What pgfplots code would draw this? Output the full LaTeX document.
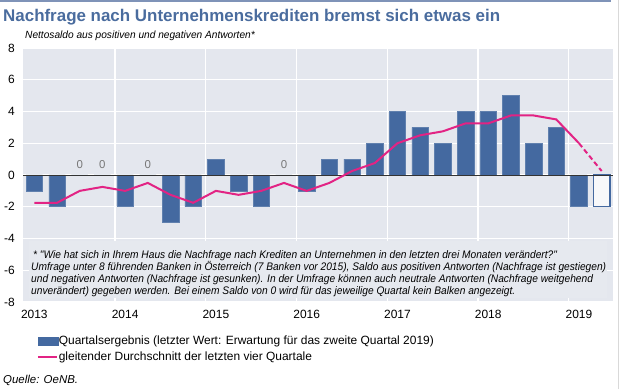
\documentclass[border=0pt]{standalone}
\usepackage{pgfplots}
\pgfplotsset{compat=1.18}
\usepackage{fontspec}
\setmainfont{Liberation Sans}
\newfontfamily\condit{Liberation Sans}[FakeStretch=0.93]
\newfontfamily\subit{Liberation Sans}[FakeStretch=0.97]
\definecolor{barcol}{RGB}{68,105,160}
\definecolor{bgcol}{RGB}{228,231,238}
\definecolor{macol}{RGB}{226,35,132}
\definecolor{titlecol}{RGB}{74,108,158}
\definecolor{zerolab}{RGB}{120,120,120}
\definecolor{topline}{RGB}{127,147,184}

\pgfplotstableread{
x y
0 -1
1 -2
2 0
3 0
4 -2
5 0
6 -3
7 -2
8 1
9 -1
10 -2
11 0
12 -1
13 1
14 1
15 2
16 4
17 3
18 2
19 4
20 4
21 5
22 2
23 3
24 -2
}\bars
\pgfplotstableread{
x y
25 -2
}\expbar
\pgfplotstableread{
x y
0 -1.75
1 -1.75
2 -1
3 -0.75
4 -1
5 -0.5
6 -1.25
7 -1.75
8 -1
9 -1.25
10 -1
11 -0.5
12 -1
13 -0.5
14 0.25
15 0.75
16 2
17 2.5
18 2.75
19 3.25
20 3.25
21 3.75
22 3.75
23 3.5
24 2
}\ma
\pgfplotstableread{
x y
24 2
25 0.25
}\maexp

\begin{document}
\begin{tikzpicture}[x=1bp,y=1bp]
\path[use as bounding box] (0,0) rectangle (620,389);
\draw[topline, line width=1.5bp] (0,388) -- (611,388);
\draw[black!15, line width=0.8bp] (618.5,0) -- (618.5,389);
\begin{axis}[at={(23bp,87bp)}, anchor=south west, scale only axis,
  width=590bp, height=254bp,
  xmin=-0.5, xmax=25.5, ymin=-8, ymax=8,
  axis background/.style={fill=bgcol},
  axis line style={draw=none},
  major tick length=0pt,
  xtick={0,4,8,12,16,20,24},
  xticklabels={2013,2014,2015,2016,2017,2018,2019},
  ytick={-8,-6,-4,-2,0,2,4,6,8},
  ymajorgrids,
  grid style={white, line width=1.3bp},
  extra x ticks={3.55,7.55,11.55,15.55,19.55,23.55},
  extra x tick labels={},
  extra x tick style={grid=major},
  tick label style={font=\fontsize{12}{14}\selectfont},
  /pgf/number format/assume math mode=true,
  yticklabel style={anchor=east, inner sep=0pt, xshift=-8bp},
  xticklabel style={anchor=north, inner sep=0pt, yshift=-8bp},
  clip=false,
  legend style={at={(0.0237,-0.132)}, anchor=north west, draw=none, fill=none,
    inner sep=0pt, outer sep=0pt, font=\fontsize{12}{13.5}\selectfont,
    row sep=4.5bp, nodes={inner sep=0.6bp}},
  legend cell align=left,
]
\addplot[ybar, bar width=16.5bp, bar shift=0pt, fill=barcol, draw=barcol!85!white, line width=0.5bp,
  legend image code/.code={\fill[barcol] (0bp,-4bp) rectangle (20bp,4bp);}]
  table[x=x,y=y]{\bars};
\addlegendentry{Quartalsergebnis (letzter Wert: Erwartung für das zweite Quartal 2019)}
\addplot[ybar, bar width=16.5bp, bar shift=0pt, fill=white!70!bgcol, draw=barcol, line width=1.2bp, forget plot]
  table[x=x,y=y]{\expbar};
\fill[bgcol!92!white] (axis cs:-0.25,-4.15) rectangle (axis cs:25.25,-7.75);
\draw[black!80, line width=0.9bp] (axis cs:-0.5,0) -- (axis cs:25.5,0);
\addplot[macol, line width=2bp, no marks,
  legend image code/.code={\draw[macol, line width=2bp] (0bp,0bp) -- (19bp,0bp);}]
  table[x=x,y=y]{\ma};
\addlegendentry{gleitender Durchschnitt der letzten vier Quartale}
\addplot[macol, line width=2bp, no marks, dash pattern=on 5bp off 3bp, forget plot]
  table[x=x,y=y]{\maexp};
\foreach \q in {2,3,5,11} {
  \edef\tmp{\noexpand\node[text=zerolab, font=\noexpand\fontsize{11.5}{13}\noexpand\selectfont, inner sep=0pt] at (axis cs:\q,0.63) {0};}
  \tmp
}
\end{axis}
\node[anchor=base west, inner sep=0pt, text=titlecol, font=\bfseries\fontsize{17}{20}\selectfont] at (3,368) {Nachfrage nach Unternehmenskrediten bremst sich etwas ein};
\node[anchor=base west, inner sep=0pt, font=\subit\itshape\fontsize{10.5}{12}\selectfont] at (25,351) {Nettosaldo aus positiven und negativen Antworten*};
\begin{scope}[every node/.style={anchor=base west, inner sep=0pt, font=\condit\itshape\fontsize{11}{12}\selectfont}]
\node at (33,131) {* "Wie hat sich in Ihrem Haus die Nachfrage nach Krediten an Unternehmen in den letzten drei Monaten verändert?"};
\node at (31,119) {Umfrage unter 8 führenden Banken in Österreich (7 Banken vor 2015), Saldo aus positiven Antworten (Nachfrage ist gestiegen)};
\node at (31,107) {und negativen Antworten (Nachfrage ist gesunken). In der Umfrage können auch neutrale Antworten (Nachfrage weitgehend};
\node at (31,95) {unverändert) gegeben werden. Bei einem Saldo von 0 wird für das jeweilige Quartal kein Balken angezeigt.};
\end{scope}
\node[anchor=base west, inner sep=0pt, font=\itshape\fontsize{11.5}{13}\selectfont] at (3,6) {Quelle: OeNB.};
\end{tikzpicture}
\end{document}
